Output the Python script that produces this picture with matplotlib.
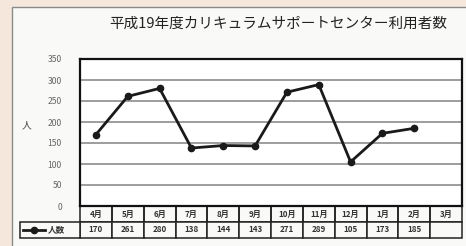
import matplotlib.pyplot as plt
from matplotlib.patches import Rectangle
from matplotlib.lines import Line2D

plt.rcParams['font.family'] = ['Noto Sans CJK JP', 'DejaVu Sans']

months = ['4月', '5月', '6月', '7月', '8月', '9月', '10月', '11月', '12月', '1月', '2月', '3月']
users = [170, 261, 280, 138, 144, 143, 271, 289, 105, 173, 185]
yticks = [0, 50, 100, 150, 200, 250, 300, 350]
title = '平成19年度カリキュラムサポートセンター利用者数'

W, H = 466, 246
fig = plt.figure(figsize=(W / 100, H / 100), dpi=100)
fig.patch.set_facecolor('#f6e7dd')

# inner panel
fig.patches.append(Rectangle((12 / W, -0.1), 1, (H - 7) / H + 0.1, transform=fig.transFigure,
                             facecolor='#f9f9f7', edgecolor='#8a8a8a', lw=1.0, zorder=-5))

fig.text(278 / W, 1 - 24 / H, title, ha='center', va='center', fontsize=10.5, color='#222222')

ax = fig.add_axes([80 / W, 1 - 206 / H, 382 / W, 147 / H])
ax.set_facecolor('white')
x = list(range(len(users)))
ax.plot(x, users, color='#1a1a1a', lw=2.0, marker='o', ms=4.5)
ax.set_xlim(-0.5, len(months) - 0.5)
ax.set_ylim(0, 350)
ax.set_yticks(yticks)
ax.set_yticklabels([str(v) for v in yticks], fontsize=6.2, color='#666666')
ax.tick_params(axis='y', length=0, pad=13)
ax.set_xticks([])
ax.grid(axis='y', color='#8c8c8c', lw=1.2)
ax.set_axisbelow(True)
for s in ax.spines.values():
    s.set_color('#111111')
    s.set_linewidth(1.6)
ax.set_ylabel('人', rotation=0, fontsize=7, color='#444444', va='center')
ax.yaxis.set_label_coords(-0.14, 0.55)

# data table under the axis
vals = [str(v) for v in users] + ['']
tab = ax.table(cellText=[months, vals], cellLoc='center',
               bbox=[0, -32 / 147, 1, 32 / 147])
tab.auto_set_font_size(False)
for (r, c), cell in tab.get_celld().items():
    cell.set_fontsize(5.8)
    cell.set_edgecolor('#222222')
    cell.set_linewidth(1.1)
    cell.set_facecolor('#f9f9f7')
    cell.get_text().set_color('#333333')
    cell.get_text().set_fontweight('bold')
    if r == 0:
        cell.visible_edges = 'LRB'

# legend cell
lx0, lx1 = 20 / W, 80 / W
ly0, ly1 = 1 - 238 / H, 1 - 222 / H
ym = (ly0 + ly1) / 2
fig.patches.append(Rectangle((lx0, ly0), lx1 - lx0, ly1 - ly0, transform=fig.transFigure,
                             facecolor='#f9f9f7', edgecolor='#222222', lw=1.1))
fig.lines.append(Line2D([23 / W, 45 / W], [ym, ym], transform=fig.transFigure,
                        color='#1a1a1a', lw=2))
fig.lines.append(Line2D([34 / W], [ym], transform=fig.transFigure,
                        color='#1a1a1a', marker='o', ms=4.5))
fig.text(48 / W, ym, '人数', fontsize=6.2, va='center', color='#333333', fontweight='bold')

fig.savefig('out.png', dpi=100, facecolor=fig.get_facecolor())
